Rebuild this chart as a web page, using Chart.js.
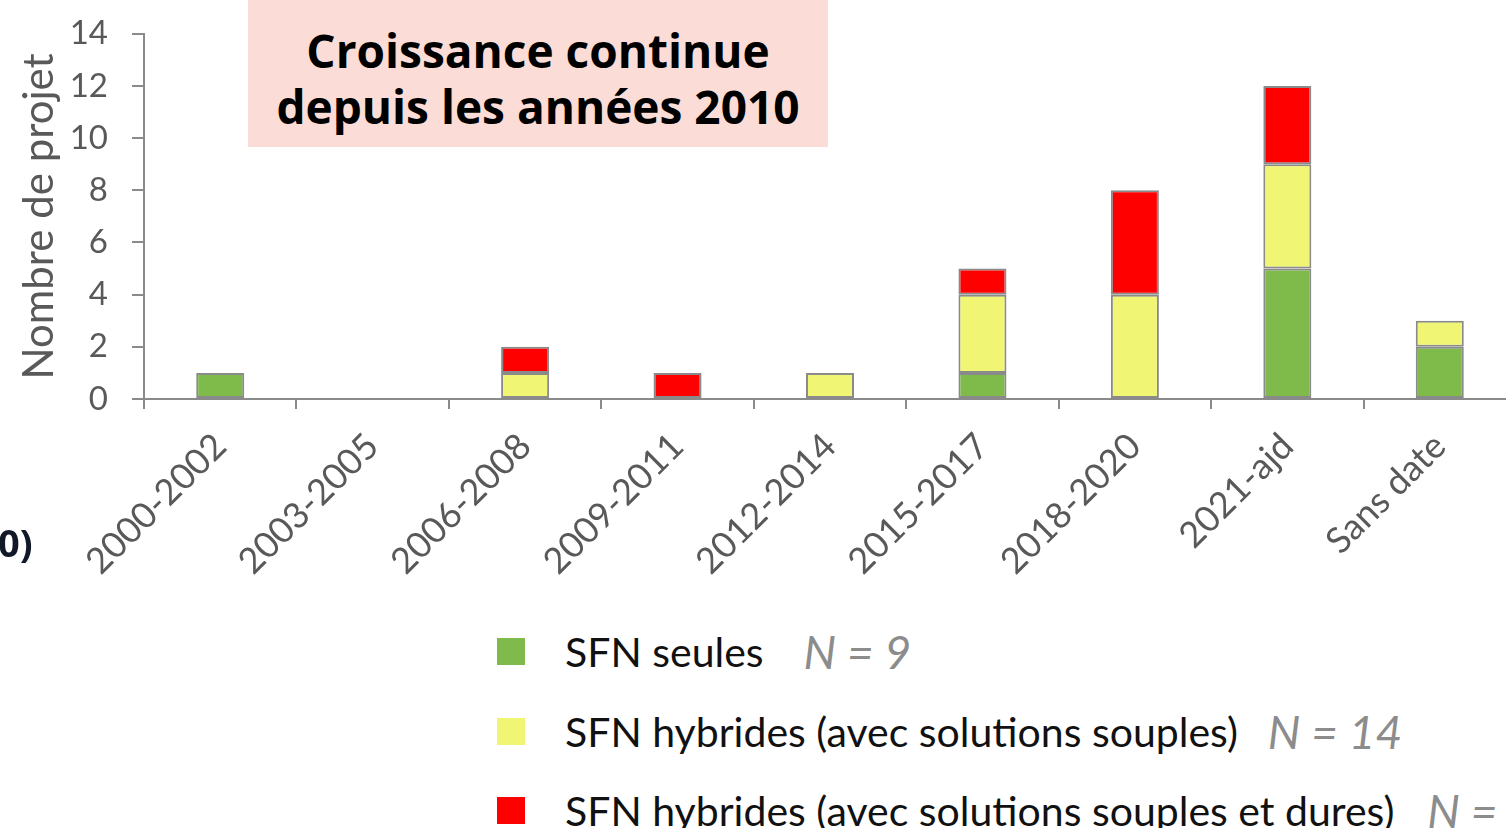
<!DOCTYPE html>
<html lang="fr">
<head>
<meta charset="utf-8">
<script src="https://cdn.jsdelivr.net/npm/chart.js@4"></script>
<style>
    html, body { margin: 0; padding: 0; background: #fff; overflow: hidden; }
    body { width: 1506px; height: 828px; position: relative; font-family: Lato, sans-serif; }
    #wrap { position: absolute; left: 0; top: -10px; width: 1516px; height: 610px; }
    #titleBox {
        position: absolute; left: 248px; top: 0; width: 580px; height: 147px;
        background: #fbdcd6; color: #000; font-family: 'Open Sans', sans-serif; font-weight: 700; font-size: 46px;
        line-height: 56px; text-align: center; box-sizing: border-box; padding-top: 22px;
    }
    #cut { position: absolute; left: -2px; top: 516px; font-family: 'Open Sans', sans-serif; font-weight: 700; font-size: 38px; color: #111827; }
    .leg { position: absolute; left: 497px; height: 40px; display: flex; align-items: center; white-space: nowrap; }
    .leg .sw { width: 28px; height: 27px; margin-right: 40px; }
    .leg .lab { font-size: 41px; color: #111; }
    .leg .n { font-size: 46px; font-style: italic; color: #8c8c8c; }
</style>
</head>
<body>
<div id="wrap"><canvas id="chart"></canvas></div>
<div id="titleBox">Croissance continue<br>depuis les années 2010</div>
<div id="cut">0)</div>
<div id="legend"></div>
<script>
    const categories = ['2000-2002', '2003-2005', '2006-2008', '2009-2011', '2012-2014', '2015-2017', '2018-2020', '2021-ajd', 'Sans date'];
    const seriesNames = ['SFN seules', 'SFN hybrides (avec solutions souples)', 'SFN hybrides (avec solutions souples et dures)'];
    const sfnSeules = [1, 0, 0, 0, 0, 1, 0, 5, 2];
    const hybridesSouples = [0, 0, 1, 0, 1, 3, 4, 4, 1];
    const hybridesDures = [0, 0, 1, 1, 0, 1, 4, 3, 0];
    const yTicks = [0, 2, 4, 6, 8, 10, 12, 14];

    const colors = ['#7fbb4a', '#f0f573', '#ff0000'];
    const seriesData = [sfnSeules, hybridesSouples, hybridesDures];

    const datasets = seriesData.map((values, i) => ({
        label: seriesNames[i],
        data: values,
        backgroundColor: colors[i],
        borderColor: '#8a8a8a',
        borderWidth: 2,
        borderSkipped: false,
        barPercentage: 0.315,
        categoryPercentage: 1
    }));

    // legende faite a la main (carre + libelle + N)
    const legend = document.getElementById('legend');
    const rowTops = [631, 711, 790];
    const nGaps = [40, 30, 33];
    seriesNames.forEach((name, i) => {
        const total = seriesData[i].reduce((a, b) => a + b, 0);
        const row = document.createElement('div');
        row.className = 'leg';
        row.style.top = rowTops[i] + 'px';
        row.innerHTML = '<div class="sw" style="background:' + colors[i] + '"></div>' +
            '<span class="lab">' + name + '</span>' +
            '<span class="n" style="margin-left:' + nGaps[i] + 'px">N = ' + total + '</span>';
        legend.appendChild(row);
    });

    const grey = '#595959';
    const axisColor = '#8a8a8a';

    new Chart(document.getElementById('chart').getContext('2d'), {
        type: 'bar',
        data: { labels: categories, datasets: datasets },
        options: {
            responsive: true,
            maintainAspectRatio: false,
            animation: false,
            layout: { padding: { top: 22, right: 0, left: 0, bottom: 0 } },
            plugins: {
                legend: { display: false },
                tooltip: { enabled: false }
            },
            scales: {
                x: {
                    stacked: true,
                    grid: {
                        offset: true,
                        drawOnChartArea: false,
                        drawTicks: true,
                        tickLength: 10,
                        color: axisColor,
                        lineWidth: 2
                    },
                    border: { color: axisColor, width: 2 },
                    ticks: {
                        minRotation: 45,
                        maxRotation: 45,
                        padding: 16,
                        color: grey,
                        font: { family: 'Lato', size: 36 }
                    },
                    afterFit: function (scale) { scale.height = 201; }
                },
                y: {
                    stacked: true,
                    min: 0,
                    max: 14,
                    afterBuildTicks: function (scale) {
                        scale.ticks = yTicks.map(v => ({ value: v }));
                    },
                    grid: {
                        drawOnChartArea: false,
                        drawTicks: true,
                        tickLength: 12,
                        color: axisColor,
                        lineWidth: 2
                    },
                    border: { color: axisColor, width: 2 },
                    ticks: {
                        padding: 24,
                        color: grey,
                        font: { family: 'Lato', size: 33 }
                    },
                    title: {
                        display: true,
                        text: 'Nombre de projet',
                        color: grey,
                        padding: { top: 14, bottom: 0 },
                        font: { family: 'Lato', size: 42 }
                    },
                    afterFit: function (scale) { scale.width = 144; }
                }
            }
        }
    });
</script>
</body>
</html>
